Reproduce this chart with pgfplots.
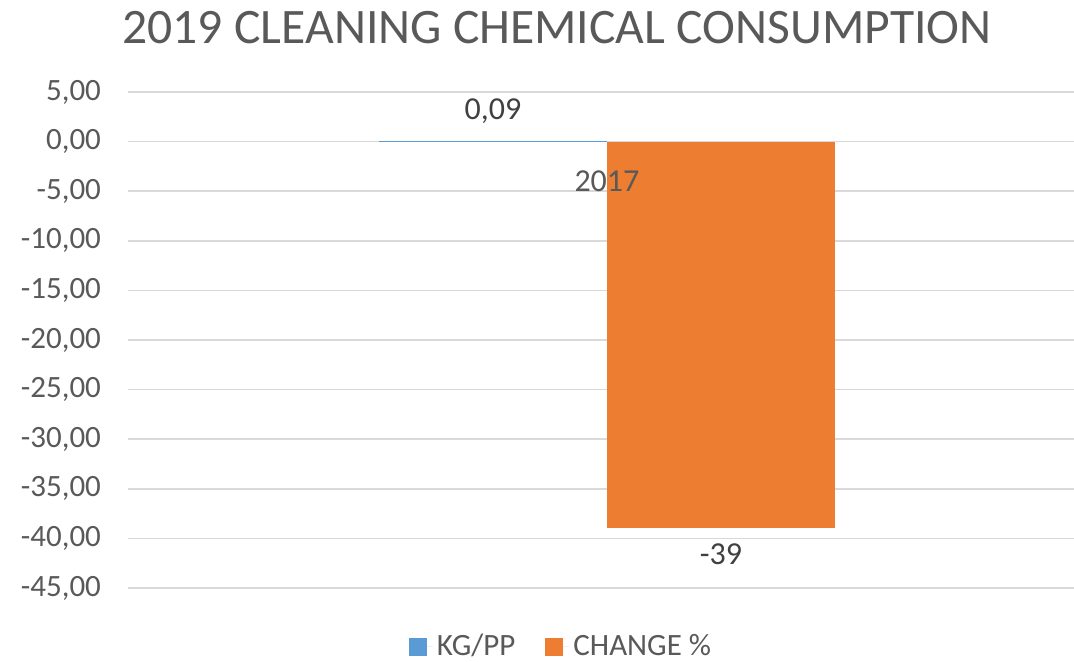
\documentclass[border=0pt]{standalone}
\usepackage{pgfplots}
\pgfplotsset{compat=1.18}
\usepackage{fontspec}
\setmainfont{Carlito}

\definecolor{kgblue}{HTML}{5B9BD5}
\definecolor{chorange}{HTML}{ED7D31}
\definecolor{txtgray}{HTML}{595959}
\definecolor{lblgray}{HTML}{404040}
\definecolor{gridgray}{HTML}{D9D9D9}

% tick labels above the bars, grid below them
\pgfplotsset{
  layers/barsunder/.define layer set={
    axis background,axis grid,pre main,main,axis ticks,axis lines,axis tick labels,axis descriptions,axis foreground
  }{
    grid style={/pgfplots/on layer=axis grid},
    tick style={/pgfplots/on layer=axis ticks},
    axis line style={/pgfplots/on layer=axis lines},
    label style={/pgfplots/on layer=axis descriptions},
    legend style={/pgfplots/on layer=axis descriptions},
    title style={/pgfplots/on layer=axis descriptions},
    ticklabel style={/pgfplots/on layer=axis tick labels},
    axis background@ style={/pgfplots/on layer=axis background},
  },
}

\begin{document}
\begin{tikzpicture}
\begin{axis}[
  set layers=barsunder,
  scale only axis,
  width=473pt, height=248pt,
  xmin=-2.1, xmax=2.048,
  ymin=-45, ymax=5,
  ytick={-45,-40,...,5},
  xtick={0}, xticklabels={2017},
  axis x line=middle, axis y line=left,
  axis line style={draw=none, -},
  hide obscured x ticks=false, hide obscured y ticks=false,
  major tick length=0pt,
  ymajorgrids,
  grid style={gridgray, line width=0.75pt},
  ybar, bar width=1, bar shift=0pt,
  /pgf/number format/assume math mode=true,
  yticklabel style={font=\fontsize{15.5}{18}\selectfont, text=txtgray, xshift=-10pt,
    /pgf/number format/fixed, /pgf/number format/fixed zerofill,
    /pgf/number format/precision=2, /pgf/number format/use comma},
  xticklabel style={font=\fontsize{16}{19}\selectfont, text=txtgray, yshift=-11pt},
  every node near coord/.append style={font=\fontsize{16}{19}\selectfont, text=lblgray},
  legend columns=2,
  legend style={at={(0.4588,-0.118)}, anchor=center, draw=none,
    font=\fontsize{15.5}{18}\selectfont, text=txtgray,
    /tikz/every even column/.append style={column sep=13pt}},
  legend image code/.code={\fill[#1] (0pt,-4.5pt) rectangle (9pt,4.5pt); \path (0pt,0pt) -- (12pt,0pt);},
]
\addplot[fill=kgblue, draw=none, on layer=pre main,
  nodes near coords={\pgfmathprintnumber[fixed,precision=2,zerofill,use comma]{\pgfplotspointmeta}},
  every node near coord/.append style={yshift=5pt}]
  coordinates {(-0.5,0.09)};
\addlegendentry{KG/PP}
\addplot[fill=chorange, draw=none,
  nodes near coords={\pgfmathprintnumber[fixed,precision=0]{\pgfplotspointmeta}},
  every node near coord/.append style={yshift=-4pt}]
  coordinates {(0.5,-39)};
\addlegendentry{CHANGE \%}
\end{axis}
\node[font=\fontsize{24.8}{30}\selectfont, text=txtgray] at (214.5pt,280pt) {2019 CLEANING CHEMICAL CONSUMPTION};
\pgfresetboundingbox
\path[use as bounding box] (-64pt,-36.5pt) rectangle (473pt,294pt);
\end{tikzpicture}
\end{document}
